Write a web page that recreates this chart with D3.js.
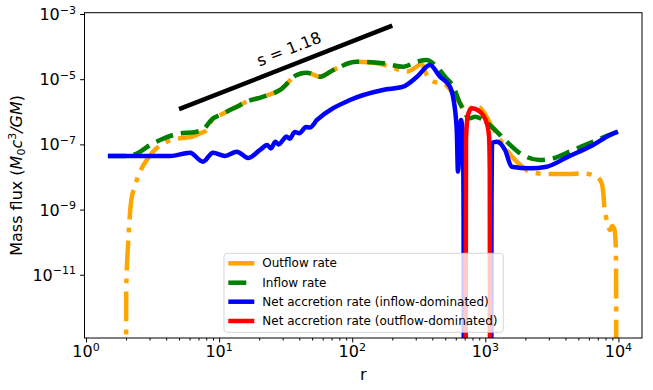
<!DOCTYPE html>
<meta charset="utf-8">
<script src="https://d3js.org/d3.v7.min.js"></script>
<style>
  body { margin: 0; background: #fff; }
  text { font-family: "DejaVu Sans", sans-serif; fill: #000; }
</style>
<div id="my_dataviz"></div>
<script>

// values: [r, mass flux]
var outflow = [
  [2.0,1e-14],[2.005,3.4e-12],[2.08,1.17e-10],[2.18,1.71e-9],[2.33,5.3e-9],[2.55,1.46e-8],
  [2.86,3.32e-8],[3.21,6.13e-8],[4.04,1.21e-7],[5.08,1.54e-7],[6.22,1.72e-7],[7.19,2.19e-7],
  [8.07,2.77e-7],[9.0,6.3e-7],[10.2,7.98e-7],[11.4,1.01e-6],[13.6,1.43e-6],[16.1,2.04e-6],
  [21.5,2.9e-6],[28.7,4.67e-6],[38.3,1.35e-5],[45.5,1.58e-5],[57.3,1.19e-5],[72.1,1.91e-5],
  [108,3.44e-5],[160,3.0e-5],[192,2.42e-5],[257,1.7e-5],[305,2.42e-5],[330,3.0e-5],
  [363,1.35e-5],[407,8.38e-6],[484,7.48e-6],[560,4.14e-6],[646,1.82e-6],[725,1.01e-6],
  [837,1.62e-6],[967,1.01e-6],[1084,4.43e-7],[1253,1.72e-7],[1448,6.73e-8],[1722,2.94e-8],
  [2168,1.46e-8],[2892,1.24e-8],[4090,1.24e-8],[5450,1.28e-8],[6870,1.02e-8],[7490,6.41e-9],
  [7700,3.16e-9],[7840,1.23e-9],[8170,4.8e-10],[8650,2.37e-10],[8960,3.14e-10],[9270,2.73e-10],
  [9510,1.17e-10],[9590,2.84e-11],[9620,1.69e-12],[9630,1e-14]
];

var inflow = [
  [1.46,4.4e-8],[1.96,4.4e-8],[2.25,4.73e-8],[2.55,5.97e-8],[3.03,9.6e-8],[3.6,1.36e-7],
  [4.8,2.08e-7],[6.79,2.45e-7],[7.57,2.86e-7],[9.0,6.3e-7],[10.2,7.98e-7],[11.4,1.01e-6],
  [13.6,1.43e-6],[16.1,2.04e-6],[21.5,2.9e-6],[28.7,4.67e-6],[38.3,1.35e-5],[45.5,1.58e-5],
  [57.3,1.19e-5],[72.1,1.91e-5],[108,3.44e-5],[171,3.08e-5],[242,2.42e-5],[305,3.44e-5],
  [363,3.88e-5],[419,2.73e-5],[498,1.19e-5],[575,5.89e-6],[646,1.82e-6],[767,6.3e-7],
  [837,7.08e-7],[967,5.6e-7],[1148,3.12e-7],[1448,1.21e-7],[1823,5.33e-8],[2575,3.32e-8],
  [3243,3.75e-8],[4580,6.73e-8],[6480,1.21e-7],[9160,2.19e-7],[9930,2.45e-7]
];

var netInflowDom = [
  [1.46,4.4e-8],[4.28,4.4e-8],[6.04,5.56e-8],[7.57,2.94e-8],[9.0,5.56e-8],[11.07,4.4e-8],
  [13.6,5.97e-8],[16.5,3.83e-8],[20.3,6.73e-8],[23,9.5e-8],[24.5,7.5e-8],[26.5,1.2e-7],
  [28,1.0e-7],[30.2,1.36e-7],[32,1.75e-7],[34,1.5e-7],[37,2.4e-7],[40,2.2e-7],[45,3.4e-7],
  [48,3.3e-7],[54.4,5.6e-7],[96.2,2.3e-6],[170,4.67e-6],[241,5.89e-6],[307,1.19e-5],
  [384,2.73e-5],[457,1.19e-5],[543,5.89e-6],[572,2.9e-6],[610,2.77e-7],[623,1.46e-8],
  [657,5.6e-7],[676,2.24e-7],[686,2e-9],[690,1e-14],[1110,1e-14],[1113,2e-9],[1122,1.1e-7],
  [1219,1.21e-7],[1407,6.73e-8],[1578,2.07e-8],[2168,1.85e-8],[2892,2.07e-8],[4090,4.0e-8],
  [6450,9.6e-8],[8650,1.94e-7],[9930,2.45e-7]
];

var netOutflowDom = [
  [712,1e-14],[716,1.36e-7],[741,7.98e-7],[791,1.28e-6],[912,1.01e-6],[1025,4.53e-7],
  [1067,1.72e-7],[1080,1.64e-8],[1084,1e-14]
];

// reference slope line
var slopeR = [5, 200];
var slopeF = [1.2e-6, 4.4e-4];
var slopeLabel = "s = 1.18";

var xTicks = [1, 10, 100, 1000, 10000];
var yTicks = [1e-3, 1e-5, 1e-7, 1e-9, 1e-11];
var legendNames = ["Outflow rate", "Inflow rate",
  "Net accretion rate (inflow-dominated)", "Net accretion rate (outflow-dominated)"];

var W = 653, H = 390;
var pL = 84.5, pR = 642, pT = 12.7, pB = 338;

var svg = d3.select("#my_dataviz").append("svg")
  .attr("width", W).attr("height", H);

var x = d3.scaleLog().domain([0.974, 15040]).range([pL, pR]);
var y = d3.scaleLog().domain([Math.pow(10, -12.94), Math.pow(10, -2.96)]).range([pB, pT]);

svg.append("clipPath").attr("id", "clip")
  .append("rect").attr("x", pL).attr("y", pT)
  .attr("width", pR - pL).attr("height", pB - pT);

var line = d3.line()
  .x(function(d) { return x(d[0]); })
  .y(function(d) { return y(d[1]); })
  .curve(d3.curveMonotoneX);

var styles = [
  {data: outflow, color: "orange", dash: "30,8,5,8"},
  {data: inflow, color: "green", dash: "18,8"},
  {data: netInflowDom, color: "blue", dash: null},
  {data: netOutflowDom, color: "red", dash: null}
];

var plot = svg.append("g").attr("clip-path", "url(#clip)");
styles.forEach(function(s) {
  plot.append("path")
    .datum(s.data)
    .attr("d", line)
    .attr("fill", "none")
    .attr("stroke", s.color)
    .attr("stroke-width", 4.5)
    .attr("stroke-linejoin", "round")
    .attr("stroke-dasharray", s.dash);
});

// slope line
plot.append("line")
  .attr("x1", x(slopeR[0])).attr("y1", y(slopeF[0]))
  .attr("x2", x(slopeR[1])).attr("y2", y(slopeF[1]))
  .attr("stroke", "black").attr("stroke-width", 4.5);
var ang = Math.atan2(y(slopeF[1]) - y(slopeF[0]), x(slopeR[1]) - x(slopeR[0])) * 180 / Math.PI;
svg.append("text")
  .attr("transform", "translate(289,49) rotate(" + ang + ")")
  .attr("text-anchor", "middle")
  .attr("dominant-baseline", "central")
  .style("font-size", "16px")
  .text(slopeLabel);

// x axis: major + minor ticks
var minors = [];
for (var k = 0; k < 5; k++) for (var m = 2; m < 10; m++) {
  var v = m * Math.pow(10, k);
  if (v < 15040) minors.push(v);
}
svg.append("g")
  .attr("transform", "translate(0," + pB + ")")
  .call(d3.axisBottom(x).tickValues(xTicks).tickFormat("").tickSize(4.4).tickSizeOuter(0))
  .call(function(g) { g.select(".domain").remove(); });
svg.append("g")
  .attr("transform", "translate(0," + pB + ")")
  .call(d3.axisBottom(x).tickValues(minors).tickFormat("").tickSize(2.5).tickSizeOuter(0))
  .call(function(g) { g.select(".domain").remove(); });
svg.append("g")
  .attr("transform", "translate(" + pL + ",0)")
  .call(d3.axisLeft(y).tickValues(yTicks).tickFormat("").tickSize(4.4).tickSizeOuter(0))
  .call(function(g) { g.select(".domain").remove(); });
svg.selectAll(".tick line").attr("stroke", "#000").attr("stroke-width", 1);

// tick labels 10^k
xTicks.forEach(function(v) {
  var e = Math.round(Math.log10(v));
  var t = svg.append("text").attr("x", x(v)).attr("y", 357)
    .attr("text-anchor", "middle").style("font-size", "16px");
  t.append("tspan").text("10");
  t.append("tspan").attr("dy", -6.5).style("font-size", "11px").text(String(e));
});
yTicks.forEach(function(v) {
  var e = Math.round(Math.log10(v));
  var t = svg.append("text").attr("x", 76).attr("y", y(v) + 6)
    .attr("text-anchor", "end").style("font-size", "16px");
  t.append("tspan").text("10");
  t.append("tspan").attr("dy", -6.5).style("font-size", "11px").text("\u2212" + (-e));
});

// frame
svg.append("rect")
  .attr("x", pL).attr("y", pT)
  .attr("width", pR - pL).attr("height", pB - pT)
  .attr("fill", "none").attr("stroke", "#000").attr("stroke-width", 1);

// axis labels
svg.append("text").attr("x", (pL + pR) / 2).attr("y", 380)
  .attr("text-anchor", "middle").style("font-size", "16px").text("r");

var yl = svg.append("text")
  .attr("transform", "translate(22," + ((pT + pB) / 2) + ") rotate(-90)")
  .attr("text-anchor", "middle").style("font-size", "16px");
yl.append("tspan").text("Mass flux (");
yl.append("tspan").style("font-style", "italic").text("M");
yl.append("tspan").attr("dy", 3).style("font-size", "11px").text("0");
yl.append("tspan").attr("dy", -3).style("font-style", "italic").text("c");
yl.append("tspan").attr("dy", -6).style("font-size", "11px").text("3");
yl.append("tspan").attr("dy", 6).style("font-style", "italic").text("/GM");
yl.append("tspan").text(")");

// legend
var lg = svg.append("g");
lg.append("rect")
  .attr("x", 224).attr("y", 253.3).attr("width", 279.3).attr("height", 79)
  .attr("rx", 3)
  .attr("fill", "white").attr("fill-opacity", 0.8)
  .attr("stroke", "#cccccc").attr("stroke-opacity", 0.8);
var rowY = [263.3, 282.7, 301.7, 321];
styles.forEach(function(s, i) {
  lg.append("line")
    .attr("x1", 228.3).attr("x2", 254.3)
    .attr("y1", rowY[i]).attr("y2", rowY[i])
    .attr("stroke", s.color).attr("stroke-width", 4.5)
    .attr("stroke-dasharray", s.dash);
  lg.append("text")
    .attr("x", 262.3).attr("y", rowY[i])
    .attr("dominant-baseline", "central")
    .style("font-size", "12px")
    .text(legendNames[i]);
});

</script>
